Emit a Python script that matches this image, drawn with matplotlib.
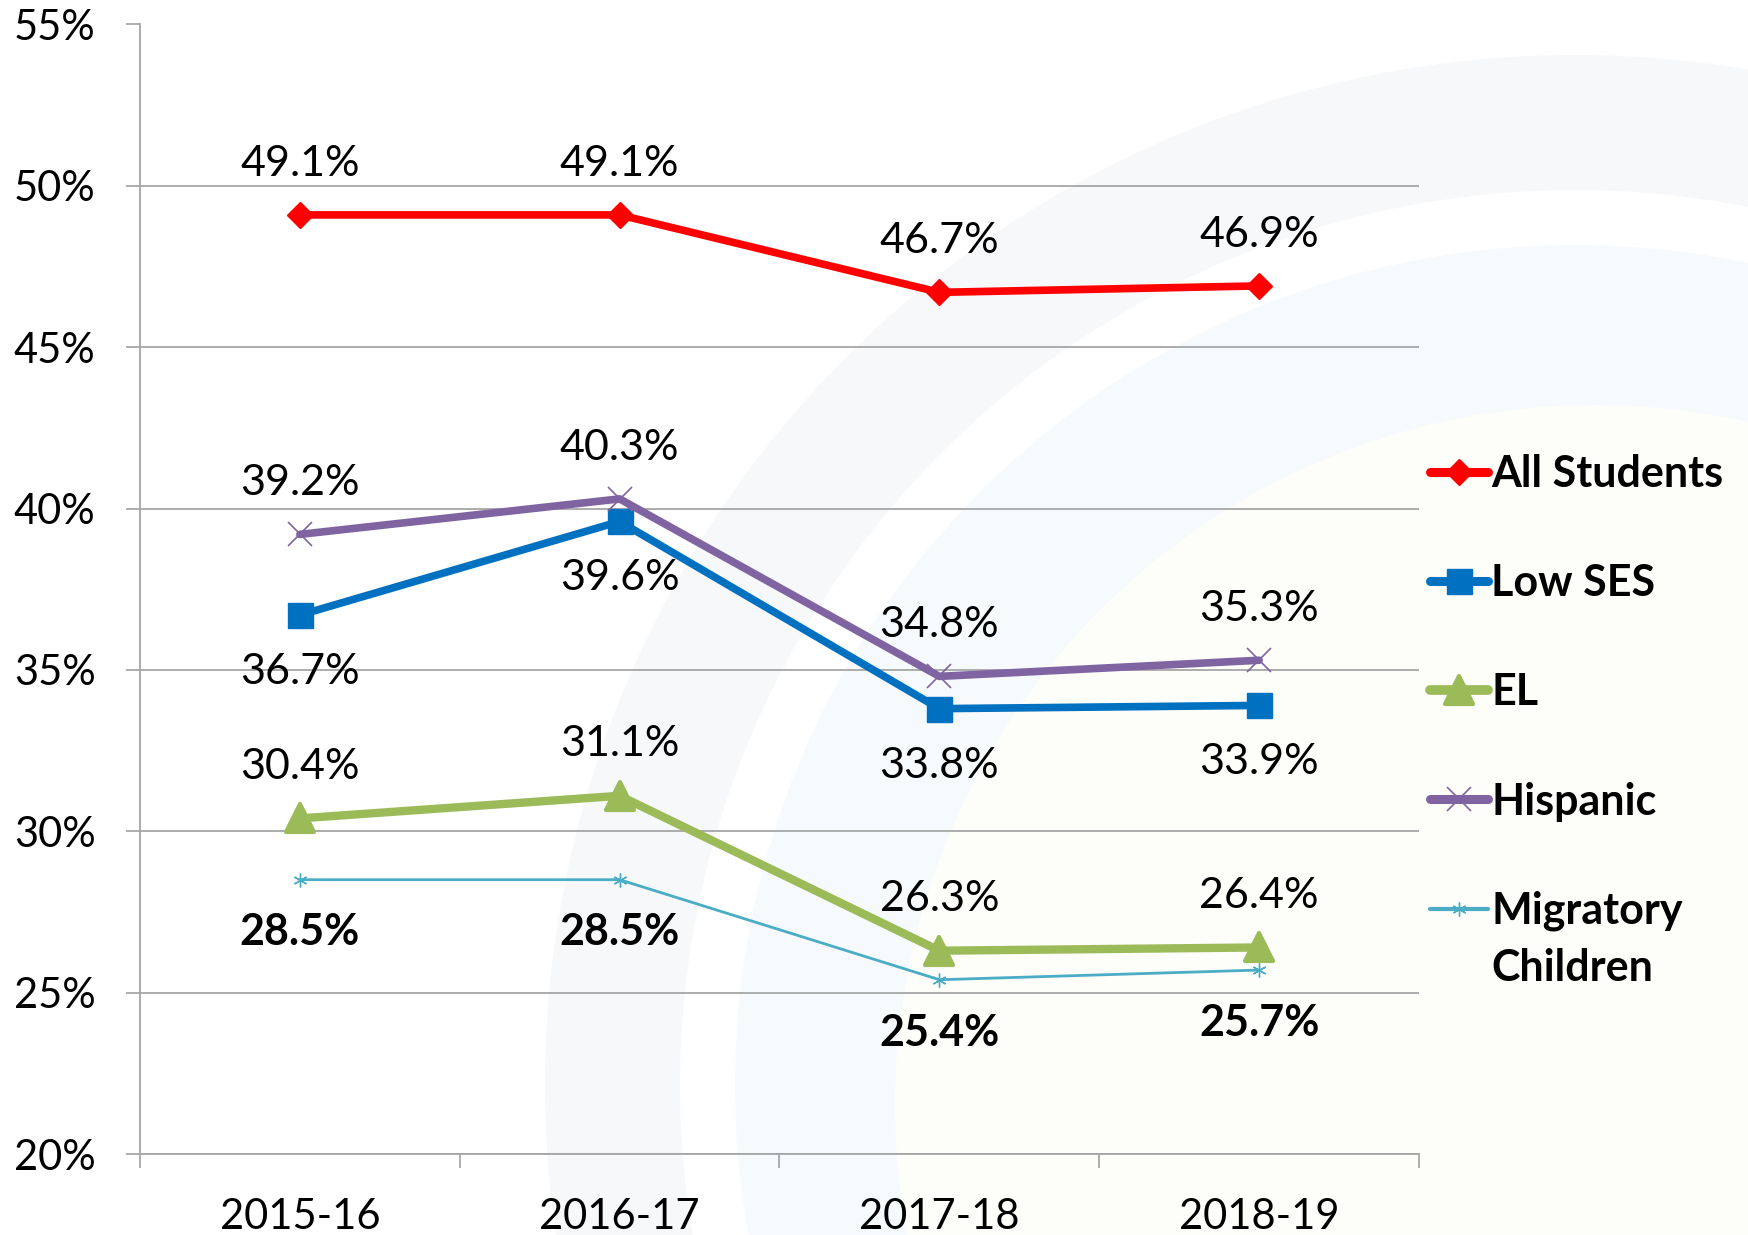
import matplotlib
matplotlib.use("Agg")
import matplotlib.pyplot as plt
from matplotlib.patches import Wedge, Circle
from matplotlib.markers import MarkerStyle

plt.rcParams['font.family'] = ['Lato', 'DejaVu Sans']

years = ["2015-16", "2016-17", "2017-18", "2018-19"]
all_students = [49.1, 49.1, 46.7, 46.9]
low_ses = [36.7, 39.6, 33.8, 33.9]
el = [30.4, 31.1, 26.3, 26.4]
hispanic = [39.2, 40.3, 34.8, 35.3]
migratory = [28.5, 28.5, 25.4, 25.7]
yticks = [20, 25, 30, 35, 40, 45, 50, 55]

W, H = 1748, 1235
fig = plt.figure(figsize=(W / 100, H / 100), dpi=100)

# faint background watermark
bg = fig.add_axes([0, 0, 1, 1], zorder=0)
bg.set_xlim(0, W)
bg.set_ylim(H, 0)
bg.axis('off')
cx, cy = 1575, 1085
bg.add_patch(Wedge((cx, cy), 1030, 0, 360, width=135, facecolor='#F7F8FA', edgecolor='none'))
bg.add_patch(Circle((cx, cy), 840, facecolor='#F7FAFD', edgecolor='none'))
bg.add_patch(Circle((cx + 20, cy + 20), 700, facecolor='#FDFDF9', edgecolor='none'))

ax = fig.add_axes([140 / W, 1 - 1154 / H, 1279 / W, 1129.5 / H], zorder=1)
ax.set_facecolor('none')

x = [i + 0.5 for i in range(len(years))]

series = [
    ("All Students", all_students, '#FF0000', dict(marker=MarkerStyle('D'), ms=13, lw=5.5, mew=1), 37, 'normal'),
    ("Low SES", low_ses, '#0070C0', dict(marker=MarkerStyle('s'), ms=18, lw=5.5, mew=1), -41, 'normal'),
    ("EL", el, '#9BBB59', dict(marker=MarkerStyle('^', joinstyle='round'), ms=20, lw=6, mew=3), 37, 'normal'),
    ("Hispanic", hispanic, '#8064A2', dict(marker=MarkerStyle('x'), ms=17, lw=5.5, mew=1.2), 37, 'normal'),
    ("Migratory\nChildren", migratory, '#4BACC6', dict(marker=MarkerStyle((6, 2, 0)), ms=10, lw=2, mew=1), -38, 'bold'),
]

for name, vals, color, kw, dy, weight in series:
    ax.plot(x, vals, color=color, solid_joinstyle='round', solid_capstyle='round',
            markeredgecolor=color, markerfacecolor=color,
            clip_on=False, zorder=3, **kw)
    for xi, v in zip(x, vals):
        ax.annotate(f"{v:.1f}%", (xi, v), xytext=(0, dy), textcoords='offset points',
                    ha='center', va='center', fontsize=31, fontweight=weight, color='black', zorder=4)

ax.set_xlim(0, 4)
ax.set_ylim(20, 55)
ax.set_yticks(yticks)
ax.set_yticklabels([f"{t}%" for t in yticks], fontsize=30)
ax.set_xticks(range(5))
ax.set_xticklabels([])
ax.set_xticks(x, minor=True)
ax.set_xticklabels(years, minor=True, fontsize=30)
ax.tick_params(axis='x', which='minor', length=0, pad=32)
ax.tick_params(axis='x', which='major', length=10, width=1.2, color='#A0A0A0', direction='out')
ax.tick_params(axis='y', length=10, width=1.2, color='#A0A0A0', pad=22)
ax.grid(axis='y', color='#A6A6A6', lw=1.3, zorder=1)
for s in ['top', 'right']:
    ax.spines[s].set_visible(False)
for s in ['left', 'bottom']:
    ax.spines[s].set_color('#A6A6A6')
    ax.spines[s].set_linewidth(1.3)

# legend drawn manually to the right of the plot area
leg_y = [0.6042, 0.5075, 0.4108, 0.3141, 0.2173]
line_gap = 41  # points between baselines of a two-line legend label
for (name, vals, color, kw, dy, weight), ly in zip(series, leg_y):
    ax.plot([1.0086, 1.054], [ly, ly], transform=ax.transAxes, color=color, lw=kw['lw'] + 1,
            solid_capstyle='round', clip_on=False, zorder=3)
    ax.plot([1.031], [ly], transform=ax.transAxes, lw=0, clip_on=False, zorder=4,
            marker=kw['marker'], ms=kw['ms'], mew=kw['mew'],
            markerfacecolor=color, markeredgecolor=color)
    for k, part in enumerate(name.split("\n")):
        ax.annotate(part, (1.0563, ly), xycoords='axes fraction', xytext=(0, -11 - k * line_gap),
                    textcoords='offset points', fontsize=31, fontweight='bold',
                    va='baseline', ha='left', annotation_clip=False)

fig.savefig("out.png", dpi=100)
